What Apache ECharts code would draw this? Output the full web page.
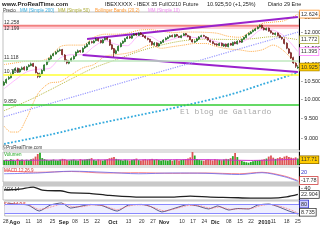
<!DOCTYPE html>
<html><head><meta charset="utf-8">
<script src="https://cdn.jsdelivr.net/npm/echarts@6/dist/echarts.min.js"></script>
<style>html,body{margin:0;padding:0;background:#fff}#c{width:320px;height:240px}</style>
</head><body><div id="c"></div>
<script>
// ---------- DATA ----------
const opens=[10400,10470,10580,10610,10720,10830,10890,10780,10850,10920,10840,10940,10970,11030,10930,10740,10640,10730,10820,11000,11090,11170,11270,11320,11390,11430,11460,11290,11130,11040,11110,11170,11260,11370,11430,11380,11510,11550,11630,11710,11670,11740,11800,11750,11670,11770,11830,11770,11610,11490,11340,11430,11550,11660,11710,11810,11870,11820,11910,11960,11910,11990,11930,11890,11820,11790,11710,11610,11670,11570,11650,11690,11770,11810,11860,11910,11860,11940,11880,11840,11910,11970,11910,11880,11770,11690,11730,11790,11870,11910,11870,11840,11750,11710,11640,11630,11590,11660,11570,11630,11550,11650,11590,11690,11640,11730,11690,11790,11840,11930,11970,12030,12070,12130,12190,12250,12150,12090,12150,12060,11990,11940,11990,11910,11840,11790,11660,11480,11360,11210,11040,10900];
const closes=[10480,10560,10620,10700,10820,10880,10790,10860,10900,10850,10930,10980,11020,10950,10760,10650,10720,10830,10990,11100,11180,11260,11330,11380,11420,11450,11300,11120,11050,11100,11180,11250,11380,11420,11390,11500,11560,11620,11700,11680,11730,11790,11740,11680,11760,11820,11780,11600,11480,11350,11420,11560,11650,11720,11800,11860,11830,11900,11950,11920,11980,11940,11880,11830,11780,11700,11620,11660,11580,11640,11700,11760,11820,11850,11900,11870,11930,11890,11850,11900,11960,11920,11870,11780,11700,11720,11800,11860,11900,11880,11830,11760,11700,11650,11620,11600,11650,11580,11620,11560,11640,11600,11680,11650,11720,11700,11780,11850,11920,11980,12020,12080,12120,12180,12240,12160,12100,12140,12050,12000,11950,11980,11900,11850,11800,11650,11500,11350,11200,11050,10950,10925];
const lows=[10380,10440,10550,10590,10700,10800,10760,10760,10830,10820,10820,10920,10950,10930,10740,10600,10610,10710,10800,10980,11070,11150,11250,11300,11370,11400,11280,11080,11010,11010,11090,11150,11240,11350,11360,11360,11480,11530,11610,11650,11650,11720,11710,11650,11650,11750,11750,11570,11450,11230,11320,11400,11530,11640,11690,11790,11800,11800,11890,11890,11890,11920,11860,11800,11750,11680,11590,11580,11550,11550,11630,11670,11750,11790,11840,11850,11840,11870,11830,11820,11890,11900,11850,11760,11680,11670,11710,11770,11850,11860,11810,11740,11680,11630,11600,11570,11570,11560,11540,11530,11530,11580,11580,11630,11620,11680,11670,11770,11820,11910,11950,12010,12050,12110,12170,12130,12070,12070,12030,11970,11930,11910,11880,11820,11770,11620,11470,11320,11170,11020,10900,10870];
const highs=[10520,10590,10660,10740,10850,10920,10910,10890,10940,10950,10960,11010,11060,11050,10960,10780,10760,10860,11010,11130,11210,11300,11360,11410,11460,11490,11480,11320,11160,11140,11220,11280,11400,11460,11450,11530,11590,11660,11730,11740,11760,11830,11820,11770,11790,11850,11860,11790,11640,11510,11460,11590,11690,11750,11830,11890,11900,11930,11980,11990,12010,12020,11950,11910,11840,11800,11730,11700,11690,11670,11730,11790,11850,11880,11930,11940,11960,11960,11900,11930,11990,11990,11930,11900,11790,11750,11830,11890,11930,11930,11890,11860,11770,11730,11670,11660,11680,11680,11650,11650,11670,11670,11710,11720,11750,11760,11810,11870,11950,12010,12050,12100,12150,12210,12270,12270,12180,12170,12170,12080,12010,12010,12010,11940,11860,11810,11690,11510,11390,11240,11070,10980];
const volumes=[32,35,30,38,34,28,40,33,36,30,35,31,37,42,55,72,80,45,38,34,30,33,36,31,29,35,40,38,33,30,34,36,31,29,38,33,35,37,40,45,33,30,36,32,29,34,38,44,48,52,40,36,33,30,34,31,29,33,36,42,32,30,35,38,33,36,40,35,38,33,30,34,31,29,33,28,32,36,30,33,35,38,42,50,88,62,40,33,30,28,32,36,34,30,38,35,33,31,36,40,38,45,58,78,52,30,26,22,18,15,20,24,28,30,33,35,38,42,55,62,48,40,45,50,46,55,60,52,48,44,50,42];
// indicators: [day index, value]
const ma200=[[0,8860],[20,9080],[40,9340],[60,9580],[80,9830],[100,10120],[115,10420],[131,10760]];
const ma50=[[0,9700],[10,9950],[20,10250],[30,10580],[40,10900],[50,11150],[60,11400],[70,11600],[80,11740],[90,11790],[100,11780],[110,11800],[120,11870],[131,11772]];
const ma10=[[0,10300],[5,10550],[10,10780],[15,10860],[20,10880],[25,11200],[30,11300],[35,11300],[40,11550],[45,11740],[50,11620],[55,11580],[60,11880],[65,11880],[70,11700],[75,11780],[80,11880],[85,11840],[90,11820],[95,11700],[100,11620],[105,11670],[110,11850],[115,12100],[120,12080],[125,11880],[131,11395]];
const bbUpper=[[0,11000],[5,11050],[10,11100],[15,11100],[20,11200],[25,11550],[30,11600],[35,11600],[40,11850],[45,11950],[50,11950],[55,11980],[60,12080],[65,12100],[70,12050],[75,12000],[80,12020],[85,12020],[90,12010],[95,11980],[100,11880],[105,11850],[110,12050],[115,12300],[120,12350],[125,12400],[131,12624]];
const bbLower=[[0,9300],[3,9150],[6,9150],[10,9500],[15,10150],[20,10450],[25,10500],[30,10700],[35,10900],[40,11000],[45,11250],[50,11300],[55,11350],[60,11450],[65,11600],[70,11500],[75,11550],[80,11600],[85,11650],[90,11650],[95,11550],[100,11480],[105,11450],[110,11400],[115,11450],[120,11600],[125,11400],[131,10950]];
const trendUpper=[[37,11796],[131.4,12524]];
const trendLower=[[35,11293],[131.4,10782]];
const trendDotted=[[-0.4,9540],[131.4,12020]];
const levelRed=[12199,12258], levelPink=[12120,12199];
const levelLightGreen=11118, levelYellow=10700, levelGreen=9850;
const priceTicks=[9000,9500,10000,10500,11000,11500,12000,12500];
const lastValues={bbUp:12624, ma50:11772, ma10:11395, price:10925};
const volMa=[[0,30],[30,33],[60,34],[90,35],[110,30],[131,38]];
const p2Red=[[0,75],[15,65],[30,70],[45,60],[60,62],[75,58],[90,60],[105,55],[115,65],[125,40],[131,10]];
const p2Blue=[[0,55],[15,60],[30,72],[45,65],[60,55],[75,60],[90,58],[105,50],[115,62],[125,35],[131,5]];
const adx=[[0,36],[7,38],[13,44],[17,35],[23,33.5],[25,33.5],[29,28],[38,26],[47,20],[61,15],[74,15],[83,18],[92,15],[101,14],[110,12.5],[119,12.5],[126,16],[131,23]];
const stochK=[[1,87],[4,80],[10,73],[15,33],[20,73],[25,87],[29,53],[32,60],[38,77],[43,70],[50,33],[55,73],[61,77],[65,63],[70,27],[76,53],[82,77],[86,67],[91,47],[95,67],[100,40],[104,50],[109,47],[113,73],[118,80],[122,63],[127,33],[131,13]];
const stochD=[[1,85],[5,82],[10,76],[15,45],[18,50],[22,68],[26,82],[30,62],[34,62],[39,74],[44,68],[50,42],[54,62],[58,74],[62,74],[66,58],[71,35],[76,48],[82,70],[87,68],[92,52],[96,60],[101,45],[105,48],[110,50],[114,68],[118,77],[123,65],[128,40],[131,20]];
const tickIdx=[0,4,10,15,21,26,31,36,41,48,55,61,66,71,79,84,89,94,100,105,110,116,120,126,131];
const tickText=['28','Ago','11','18','25','Sep','08','15','22','Oct','13','20','27','Nov','10','17','24','Dic','08','15','22','2010','11','18','25'];

// ---------- BUILD ----------
const N=closes.length;
const categories=[];
(function(){let d=new Date(Date.UTC(2009,6,28));const hol=['2009-12-25','2010-01-01'];
 while(categories.length<N){const wd=d.getUTCDay();const s=d.toISOString().slice(0,10);
  if(wd!==0&&wd!==6&&hol.indexOf(s)<0)categories.push(s);d.setUTCDate(d.getUTCDate()+1);}})();
const ohlc=closes.map((c,i)=>[opens[i],c,lows[i],highs[i]]);
const fmt=v=>String(v).replace(/\B(?=(\d{3})+(?!\d))/g,'.');
const tickMap={};tickIdx.forEach((k,j)=>tickMap[k]=tickText[j]);
const months=['Ago','Sep','Oct','Nov','Dic','2010'];
const FONT='Liberation Sans';
const CLEAR='rgba(0,0,0,0)';
const grids=[{top:12,height:138},{top:152,height:13},{top:167,height:15},{top:186,height:14},{top:201,height:15}];
const hidden={show:false};
function rightLabel(v,text,extra){return {yAxis:v,lineStyle:{color:CLEAR,width:0},
  label:Object.assign({show:true,position:'end',distance:2,formatter:text,fontSize:5.5,color:'#222',fontFamily:FONT},extra||{})};}
function box(v,text,border,bg){return rightLabel(v,text,{backgroundColor:bg||'#fff',borderColor:border,borderWidth:0.8,padding:[1,1,0,1],color:'#333',distance:1});}
function leftLabel(v,text,pos,dy){return {yAxis:v,lineStyle:{color:CLEAR,width:0},label:{show:true,position:pos||'insideStartTop',distance:[1,dy===undefined?1:dy],formatter:text,fontSize:5,color:'#333',fontFamily:FONT}};}
function line(name,data,color,type,width,x,y,extra){return Object.assign({name:name,type:'line',data:data,xAxisIndex:x||0,yAxisIndex:y||0,
  showSymbol:false,symbol:'none',silent:true,smooth:0.3,lineStyle:{color:color,type:type||'solid',width:width||1},z:3},extra||{});}

const option={
 animation:false,backgroundColor:'#fff',
 grid:grids.map(g=>({left:3,width:296,top:g.top,height:g.height,show:true,borderColor:'#999',borderWidth:0.6,backgroundColor:'#fff'})),
 xAxis:grids.map((g,k)=>({type:'category',data:categories,gridIndex:k,boundaryGap:true,
   axisLine:{show:false},axisTick:{show:false},splitLine:{show:false},
   axisLabel:k===4?{show:true,interval:(i)=>tickMap[i]!==undefined,formatter:(v,i)=>{const t=tickMap[i];return months.indexOf(t)>=0?'{b|'+t+'}':t;},
     fontSize:5,color:'#333',margin:3,fontFamily:FONT,rich:{b:{fontWeight:'bold',fontSize:5.5,color:'#222',fontFamily:FONT}}}:hidden})),
 yAxis:[
  {type:'log',gridIndex:0,min:8713,max:12696,position:'right',axisLine:{show:true,lineStyle:{color:'#000'}},axisTick:hidden,axisLabel:hidden,splitLine:hidden},
  {type:'value',gridIndex:1,min:0,max:85,position:'right',axisLine:{show:true,lineStyle:{color:'#000'}},axisTick:hidden,axisLabel:hidden,splitLine:hidden},
  {type:'value',gridIndex:2,min:0,max:100,position:'right',axisLine:{show:true,lineStyle:{color:'#000'}},axisTick:hidden,axisLabel:hidden,splitLine:hidden},
  {type:'value',gridIndex:3,min:7,max:47,position:'right',axisLine:{show:true,lineStyle:{color:'#000'}},axisTick:hidden,axisLabel:hidden,splitLine:hidden},
  {type:'value',gridIndex:4,min:0,max:100,position:'right',axisLine:{show:true,lineStyle:{color:'#000'}},axisTick:hidden,axisLabel:hidden,splitLine:hidden}
 ],
 series:[
  {name:'Precio',type:'candlestick',data:ohlc,xAxisIndex:0,yAxisIndex:0,barWidth:'68%',z:4,silent:true,
   itemStyle:{color:'#33cc33',color0:'#cc3333',borderColor:'#004400',borderColor0:'#550000',borderWidth:0.6},
   markArea:{silent:true,data:[
     [{yAxis:levelPink[0],itemStyle:{color:'#ffd0da'}},{yAxis:levelPink[1]}],
     [{yAxis:levelRed[0],itemStyle:{color:'#f28080'}},{yAxis:levelRed[1]}]]},
   markLine:{silent:true,symbol:'none',animation:false,data:[
     {yAxis:levelLightGreen,lineStyle:{color:'#bfe8bf',width:1.5,type:'solid'},label:{show:false}},
     {yAxis:levelYellow,lineStyle:{color:'#ffff33',width:1.5,type:'solid'},label:{show:false}},
     {yAxis:levelGreen,lineStyle:{color:'#33cc33',width:1.5,type:'solid'},label:{show:false}},
     leftLabel(levelRed[1],fmt(levelRed[1]),'insideStartTop',0),
     leftLabel(levelRed[0],fmt(levelRed[0]),'insideStartBottom',-1),
     leftLabel(levelLightGreen,fmt(levelLightGreen)),
     leftLabel(levelYellow,fmt(levelYellow)),
     leftLabel(levelGreen,fmt(levelGreen)),
     ...priceTicks.map(v=>rightLabel(v,'- '+fmt(v))),
     box(lastValues.bbUp,fmt(lastValues.bbUp),'#ff9933'),
     box(lastValues.ma50,fmt(lastValues.ma50),'#aaaa33'),
     box(lastValues.ma10,fmt(lastValues.ma10),'#ff88ff'),
     box(lastValues.price,fmt(lastValues.price),'#aa8800','#ffcc00')
   ]}},
  line('MM (Simple 200)',ma200,'#33aadd','dotted',1.8),
  line('MM (Simple 50)',ma50,'#b8b840','dotted',1),
  line('MM (Simple 10)',ma10,'#ffaaff','solid',0.8),
  line('BB up',bbUpper,'#ffaa44','dotted',1),
  line('BB low',bbLower,'#ffaa44','dotted',1),
  line('trend up',trendUpper,'#9922cc','solid',2,0,0,{smooth:false}),
  line('trend low',trendLower,'#9922cc','solid',2,0,0,{smooth:false}),
  line('trend dotted',trendDotted,'#9999ff','dotted',1.2,0,0,{smooth:false}),
  {name:'Volumen',type:'bar',xAxisIndex:1,yAxisIndex:1,barWidth:'80%',silent:true,
   data:volumes.map((v,i)=>({value:v,itemStyle:{color:closes[i]>=opens[i]?'#22aa22':'#dd5555'}})),
   markLine:{silent:true,symbol:'none',data:[box(34,'117.71','#886600','#ffcc00')]}},
  line('vol ma',volMa,'#cc33cc','solid',1,1,1),
  line('p2 red',p2Red,'#ff6666','solid',0.8,2,2,{markLine:{silent:true,symbol:'none',data:[rightLabel(65,'20',{color:'#3333cc'}),box(10,'-17.78','#cc3333')]}}),
  line('p2 blue',p2Blue,'#6666ee','solid',0.8,2,2),
  line('adx',adx,'#222','solid',1.3,3,3,{markLine:{silent:true,symbol:'none',data:[rightLabel(40,'- 40'),box(22.9,'22.904','#333')]}}),
  line('stochK',stochK,'#333366','solid',0.8,4,4,{smooth:0.2,
    markArea:{silent:true,data:[[{yAxis:20,itemStyle:{color:'#eeeeff'}},{yAxis:80}]]},
    markLine:{silent:true,symbol:'none',data:[
      {yAxis:80,lineStyle:{color:'#8888ff',width:1,type:'solid'},label:{show:false}},
      {yAxis:20,lineStyle:{color:'#8888ff',width:1,type:'solid'},label:{show:false}},
      box(80,'80','#3333cc','#ccccff'),box(25,'8.735','#333')]}}),
  line('stochD',stochD,'#ff6666','dotted',0.8,4,4,{smooth:0.2})
 ],
 graphic:[
  {type:'text',left:2,top:1,style:{text:'www.ProRealTime.com',fontSize:6,fontWeight:'bold',fill:'#222',fontFamily:FONT}},
  {type:'text',left:105,top:1,style:{text:'IBEXXXXX - IBEX 35 FullO210 Future',fontSize:5.5,fill:'#222',fontFamily:FONT}},
  {type:'text',left:207,top:1,style:{text:'10.925,50 (+1,25%)',fontSize:5.5,fill:'#222',fontFamily:FONT}},
  {type:'text',left:268,top:1,style:{text:'Diario 29 Ene',fontSize:5.5,fill:'#222',fontFamily:FONT}},
  {type:'text',left:3,top:8,style:{text:'Precio',fontSize:4.5,fill:'#333',fontFamily:FONT}},
  {type:'text',left:20,top:8,style:{text:'MM (Simple 200)',fontSize:4.5,fill:'#33aadd',fontFamily:FONT}},
  {type:'text',left:58,top:8,style:{text:'MM (Simple 50)',fontSize:4.5,fill:'#aaaa33',fontFamily:FONT}},
  {type:'text',left:95,top:8,style:{text:'Bollinger Bands (20,2)',fontSize:4.5,fill:'#ff9933',fontFamily:FONT}},
  {type:'text',left:148,top:8,style:{text:'MM (Simple 10)',fontSize:4.5,fill:'#ee88ee',fontFamily:FONT}},
  {type:'text',left:180,top:108,style:{text:'El blog de Gallardo',fontSize:8,fill:'#aaa',fontFamily:'Liberation Mono'}},
  {type:'text',left:3,top:145,style:{text:'©ProRealTime.com',fontSize:4.5,fill:'#333',fontFamily:FONT}},
  {type:'text',left:4,top:152,style:{text:'Volumen',fontSize:4.5,fill:'#22aa22',fontFamily:FONT}},
  {type:'text',left:4,top:168,style:{text:'MACD 12,26,9',fontSize:4.5,fill:'#cc3333',fontFamily:FONT}},
  {type:'text',left:4,top:187,style:{text:'ADX 14',fontSize:4.5,fill:'#333',fontFamily:FONT}},
  {type:'text',left:4,top:202,style:{text:'Sto: 14,3,5',fontSize:4.5,fill:'#cc3333',fontFamily:FONT}},
  {type:'rect',shape:{x:3,y:182,width:296,height:4},style:{fill:'#c8c8c8'}}
 ]
};
const chart=echarts.init(document.getElementById('c'));
chart.setOption(option);
</script></body></html>
